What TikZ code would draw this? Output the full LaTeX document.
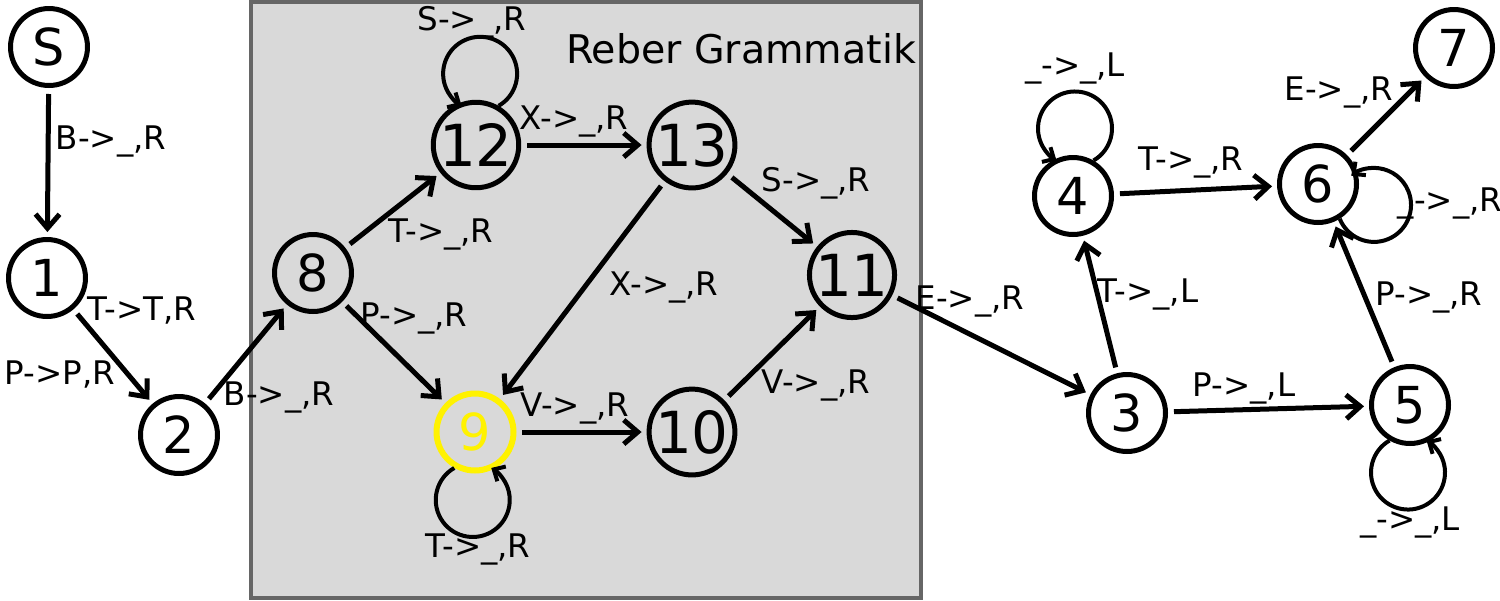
\documentclass[tikz,border=0pt]{standalone}
\usepackage{fontspec}
\setmainfont{DejaVu Sans}
\usetikzlibrary{arrows.meta}
\begin{document}
\begin{tikzpicture}[x=0.02cm,y=-0.02cm,
  state/.style={circle,draw,line width=0.1cm,minimum size=1.54cm,inner sep=0pt,
    font=\fontsize{29}{29}\selectfont},
  bigstate/.style={state,font=\fontsize{33}{33}\selectfont},
  lbl/.style={font=\fontsize{18.5}{20}\selectfont,inner sep=0pt},
  edgeline/.style={line width=0.1cm,-{Straight Barb[length=0.28cm,width=0.48cm]},
    shorten >=0.1cm,shorten <=0.12cm},
  loopline/.style={line width=0.08cm,-{Straight Barb[length=0.18cm,width=0.34cm]}},
]
\useasboundingbox (0,0) rectangle (1500,600);
% Reber box
\draw[fill=black!15,draw=black!60,line width=0.07cm] (251,2) rectangle (921,598);
\node[font=\fontsize{22.5}{23}\selectfont,inner sep=0pt] (title) at (741,49) {Reber Grammatik};

% states
\node[state] (nS) at (49,47) {S};
\node[state] (n1) at (47,278) {1};
\node[state] (n2) at (179,435) {2};
\node[state] (n8) at (313,273) {8};
\node[bigstate] (n12) at (476,145) {12};
\node[bigstate] (n13) at (692,145) {13};
\node[state,draw=yellow,text=yellow,line width=0.12cm] (n9) at (475,432) {9};
\node[bigstate] (n10) at (692,432) {10};
\node[bigstate] (n11) at (852,275) {11};
\node[state] (n3) at (1127,413) {3};
\node[state] (n4) at (1073,196) {4};
\node[state] (n5) at (1410,405) {5};
\node[state] (n6) at (1318,184) {6};
\node[state] (n7) at (1454,48) {7};

% edges
\draw[edgeline] (nS) -- (n1);
\draw[edgeline] (n1) -- (n2);
\draw[edgeline] (n2) -- (n8);
\draw[edgeline] (n8) -- (n12);
\draw[edgeline] (n8) -- (n9);
\draw[edgeline] (n12) -- (n13);
\draw[edgeline] (n13) -- (n11);
\draw[edgeline] (n13) -- (n9);
\draw[edgeline] (n9) -- (n10);
\draw[edgeline] (n10) -- (n11);
\draw[edgeline] (n11) -- (n3);
\draw[edgeline] (n3) -- (n4);
\draw[edgeline] (n4) -- (n6);
\draw[edgeline] (n3) -- (n5);
\draw[edgeline] (n5) -- (n6);
\draw[edgeline] (n6) -- (n7);

% loops
\draw[loopline] (n12.60) arc[start angle=-60,end angle=240,radius=0.74cm];
\draw[loopline] (n4.60) arc[start angle=-60,end angle=240,radius=0.74cm];
\draw[loopline] (n9.240) arc[start angle=120,end angle=420,radius=0.74cm];
\draw[loopline] (n5.240) arc[start angle=120,end angle=420,radius=0.74cm];
\draw[loopline] (n6.-58) arc[start angle=-158,end angle=128,radius=0.74cm];

% labels
\node[lbl] (lS1) at (111,141) {B->\_,R};
\node[lbl] (l12a) at (142,311) {T->T,R};
\node[lbl] (l12b) at (60,375) {P->P,R};
\node[lbl] (l28) at (279,397) {B->\_,R};
\node[lbl] (l812) at (441,234) {T->\_,R};
\node[lbl] (l89) at (414,318) {P->\_,R};
\node[lbl] (l1212) at (472,22) {S->\_,R};
\node[lbl] (l1213) at (574,121) {X->\_,R};
\node[lbl] (l1311) at (816,183) {S->\_,R};
\node[lbl] (l139) at (664,287) {X->\_,R};
\node[lbl] (l910) at (575,408) {V->\_,R};
\node[lbl] (l1011) at (816,385) {V->\_,R};
\node[lbl] (l99) at (478,549) {T->\_,R};
\node[lbl] (l113) at (970,301) {E->\_,R};
\node[lbl] (l34) at (1148,294) {T->\_,L};
\node[lbl] (l46) at (1191,162) {T->\_,R};
\node[lbl] (l35) at (1244,388) {P->\_,L};
\node[lbl] (l56) at (1429,297) {P->\_,R};
\node[lbl] (l67) at (1339,92) {E->\_,R};
\node[lbl] (l66) at (1450,203) {\_->\_,R};
\node[lbl] (l44) at (1075,68) {\_->\_,L};
\node[lbl] (l55) at (1410,522) {\_->\_,L};
\end{tikzpicture}
\end{document}
